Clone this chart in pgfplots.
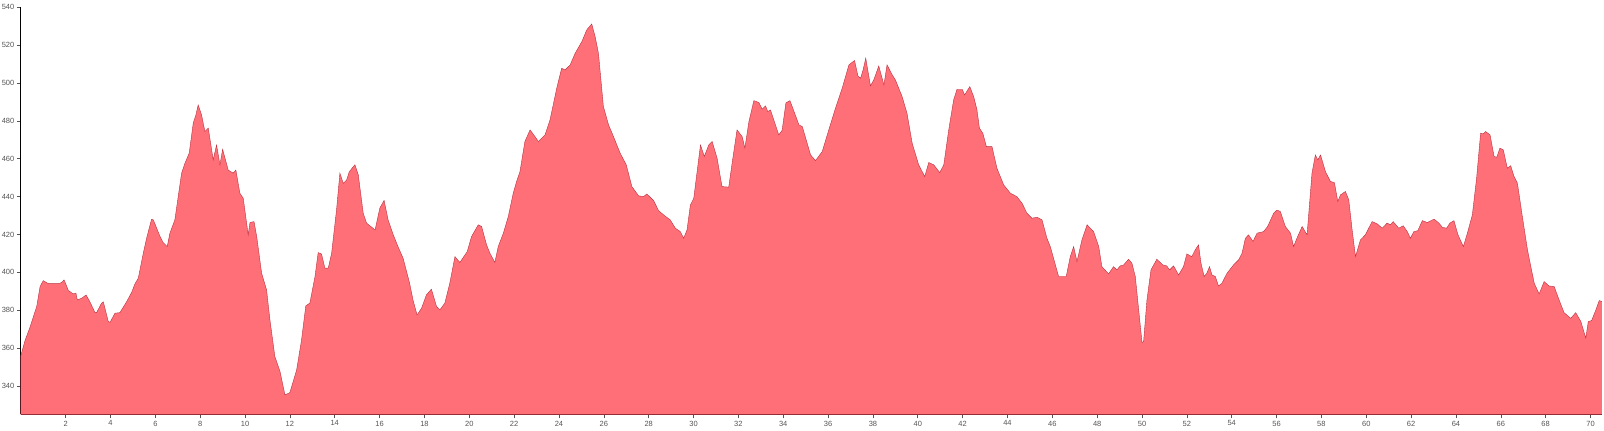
\documentclass[border=0pt]{standalone}
\usepackage{pgfplots}
\pgfplotsset{compat=1.18}
\usepackage{fontspec}
\setmainfont{Liberation Sans}
\definecolor{fillred}{HTML}{FF6F77}
\definecolor{edgered}{HTML}{B8303F}
\definecolor{ticktext}{HTML}{555555}
\begin{document}
\begin{tikzpicture}
\path[use as bounding box] (0,0) rectangle (1604bp,431bp);
\begin{axis}[
  at={(20.8bp,16.7bp)}, anchor=south west,
  scale only axis,
  width=1580.9bp, height=407bp,
  xmin=0, xmax=70.5,
  ymin=325, ymax=540,
  xtick={2,4,...,70},
  ytick={340,360,...,540},
  axis x line=bottom, axis y line=left,
  axis line style={-, line width=0.9bp, black},
  tick align=outside,
  major tick length=4bp,
  tick style={line width=0.6bp, ticktext},
  ticklabel style={font=\fontsize{7.5bp}{8bp}\selectfont, text=ticktext},
  /pgf/number format/assume math mode=true,
  xticklabel style={yshift=1bp},
  yticklabel style={xshift=1bp},
  clip=false,
]
\addplot[draw=edgered, line width=0.4bp, fill=fillred] coordinates {
(0,356)(0.19,364)(0.41,371)(0.71,382)(0.86,392.5)(1.0,395.6)(1.23,394)(1.45,394)(1.67,394)(1.82,394.6)
(1.93,396)(2.04,392.8)(2.12,390.4)(2.34,388.6)(2.46,389)(2.52,385.4)(2.71,386.3)(2.91,388)(3.08,384.5)(3.31,378.7)
(3.38,378.7)(3.6,383.7)(3.68,384.4)(3.9,374)(3.98,373.6)(4.2,378.4)(4.42,378.7)(4.72,384.5)(4.94,389.3)(5.09,393.9)
(5.24,396.9)(5.46,410)(5.61,418)(5.83,428)(5.91,427.7)(6.21,418.9)(6.35,415.7)(6.53,413.6)(6.65,420.7)(6.87,427.7)
(7.02,440)(7.17,452.4)(7.32,457.6)(7.51,463)(7.69,478.8)(7.81,483.2)(7.91,488.4)(8.06,483.2)(8.21,474.4)(8.36,476.2)
(8.58,459.4)(8.73,467.3)(8.88,456.8)(9.0,465)(9.25,454)(9.47,452.4)(9.59,454)(9.77,441.8)(9.92,439.1)(10.14,419.8)
(10.22,426.3)(10.4,426.8)(10.52,418.9)(10.74,399.5)(10.96,390.7)(11.11,374.9)(11.33,355.5)(11.56,347.6)(11.78,335.2)(12.0,336.5)
(12.3,348.4)(12.52,364.3)(12.71,382.3)(12.89,383.7)(13.12,397.8)(13.26,410.4)(13.41,409.7)(13.56,402.2)(13.71,402.2)(13.86,410)
(14.08,433)(14.23,452.4)(14.38,447)(14.53,448.8)(14.65,453.2)(14.9,456.8)(15.05,451.5)(15.27,431.2)(15.42,426)(15.8,422.4)
(16.01,433.9)(16.2,438)(16.38,427.7)(16.61,419.8)(16.82,413.6)(17.05,407.4)(17.34,394.2)(17.49,385.4)(17.67,377.5)(17.87,381)
(18.09,388.1)(18.31,391.1)(18.54,381.9)(18.69,380.2)(18.91,383.7)(19.13,394.2)(19.36,408.3)(19.58,405.2)(19.91,411)(20.1,418.9)
(20.4,425.1)(20.55,424.2)(20.77,414.5)(20.92,410.1)(21.14,405.2)(21.29,413.6)(21.52,420.7)(21.74,429.5)(21.96,441.8)(22.11,448)
(22.26,453.2)(22.48,469.1)(22.71,475.2)(22.93,471.7)(23.08,469.1)(23.38,472.6)(23.6,480.5)(23.9,497.3)(24.12,507.8)(24.27,506.9)
(24.5,509.6)(24.72,515.7)(25.02,521.9)(25.24,528.1)(25.46,531.2)(25.61,524.6)(25.76,515.7)(25.98,487.6)(26.21,477.9)(26.43,471.7)
(26.73,462.9)(27.0,456.8)(27.25,445.3)(27.55,440.4)(27.77,440)(27.92,441.4)(28.22,437.9)(28.44,432.6)(28.67,430.3)(28.96,427.7)
(29.19,423.3)(29.41,421.5)(29.56,418)(29.71,422.4)(29.86,435.6)(30.01,439.1)(30.31,467.3)(30.48,461.2)(30.68,467.3)(30.83,469.1)
(31.05,460.3)(31.27,445.3)(31.57,445)(31.72,457.6)(31.94,475.2)(32.17,471.7)(32.29,465.6)(32.47,479.6)(32.69,490.7)(32.91,489.7)
(33.06,486.2)(33.21,487.9)(33.31,484.9)(33.43,485.8)(33.58,480.5)(33.8,472.6)(33.95,475)(34.12,489.5)(34.3,490.7)(34.48,485)
(34.7,477.9)(34.85,477)(35.22,462)(35.44,459)(35.74,463.8)(36.03,475.2)(36.33,486.7)(36.63,497.3)(36.93,509.6)(37.18,511.9)
(37.33,503.8)(37.45,502.5)(37.56,506.9)(37.68,513.1)(37.89,498.5)(38.04,501.7)(38.26,509)(38.49,499)(38.63,509.6)(38.86,504.3)
(39.0,501.7)(39.3,492.9)(39.52,484)(39.75,468.2)(40.04,456.8)(40.31,450.6)(40.49,458)(40.71,456.8)(40.98,452.7)(41.16,456.8)
(41.38,475.2)(41.6,491.1)(41.75,496.7)(41.98,496.7)(42.09,493.7)(42.32,498.1)(42.49,492.9)(42.64,485.8)(42.75,476.1)(42.9,473.5)
(43.06,466.4)(43.31,466.4)(43.53,455)(43.83,446.2)(44.13,441.8)(44.42,440)(44.65,436.5)(44.87,431.2)(45.09,428.6)(45.32,429.1)
(45.54,427.7)(45.76,418)(45.91,413.6)(46.28,397.8)(46.62,397.8)(46.8,408.3)(46.95,413.6)(47.1,405.7)(47.32,417.1)(47.55,425.1)
(47.84,421.5)(48.07,413.6)(48.21,403)(48.51,399.2)(48.73,403)(48.88,401.3)(49.03,403.4)(49.18,403.9)(49.4,406.9)(49.55,404.8)
(49.7,397.8)(50.0,362.9)(50.07,363.4)(50.22,385.4)(50.4,401.3)(50.66,406.9)(50.93,403.9)(51.1,403.4)(51.23,401.3)(51.41,403.4)
(51.63,398.6)(51.85,403)(52.0,409.7)(52.22,408.3)(52.37,411.8)(52.52,414.5)(52.63,404.8)(52.77,397.8)(52.89,399.5)(53.01,403)
(53.12,398.6)(53.27,397.8)(53.41,392.8)(53.56,394.2)(53.79,399.5)(54.08,403.9)(54.31,406.6)(54.46,410.1)(54.61,418)(54.75,419.8)
(54.95,416.3)(55.13,420.7)(55.42,421.5)(55.6,424.2)(55.87,431.2)(56.02,432.9)(56.17,432.1)(56.39,424.2)(56.62,420.7)(56.76,413.6)
(56.94,418.9)(57.14,424.2)(57.36,419.8)(57.58,452.4)(57.73,462)(57.84,459.4)(57.96,462)(58.18,453.2)(58.4,448)(58.58,447.4)
(58.73,437.4)(58.85,440.9)(59.07,442.7)(59.22,438.3)(59.37,422.4)(59.52,408.3)(59.74,417.1)(59.96,419.8)(60.26,426.8)(60.49,425.6)
(60.71,423.3)(60.93,426)(61.08,425.1)(61.2,426.8)(61.45,423.3)(61.65,424.6)(61.83,421.5)(61.97,418)(62.12,421.5)(62.3,422)
(62.5,427.3)(62.72,426.3)(63.02,428.1)(63.24,426)(63.39,423.8)(63.58,423.3)(63.73,426)(63.91,427.3)(64.09,419.8)(64.33,413.6)
(64.51,420.7)(64.73,430.3)(64.92,449.7)(65.1,473.5)(65.22,473.1)(65.32,474.4)(65.52,472.6)(65.7,461.2)(65.82,460.8)(65.96,465.6)
(66.11,464.7)(66.29,455)(66.44,456.3)(66.59,450.6)(66.74,447.1)(66.96,429.5)(67.19,411.8)(67.49,394.2)(67.71,388.6)(67.93,395.1)
(68.15,392.8)(68.38,392.5)(68.6,385.4)(68.82,378.7)(69.12,375.7)(69.34,378.7)(69.57,374)(69.79,365.2)(69.9,374)(70.05,374.5)
(70.24,380.2)(70.39,385.1)(70.5,384.6)
} \closedcycle;
\end{axis}
\end{tikzpicture}
\end{document}
